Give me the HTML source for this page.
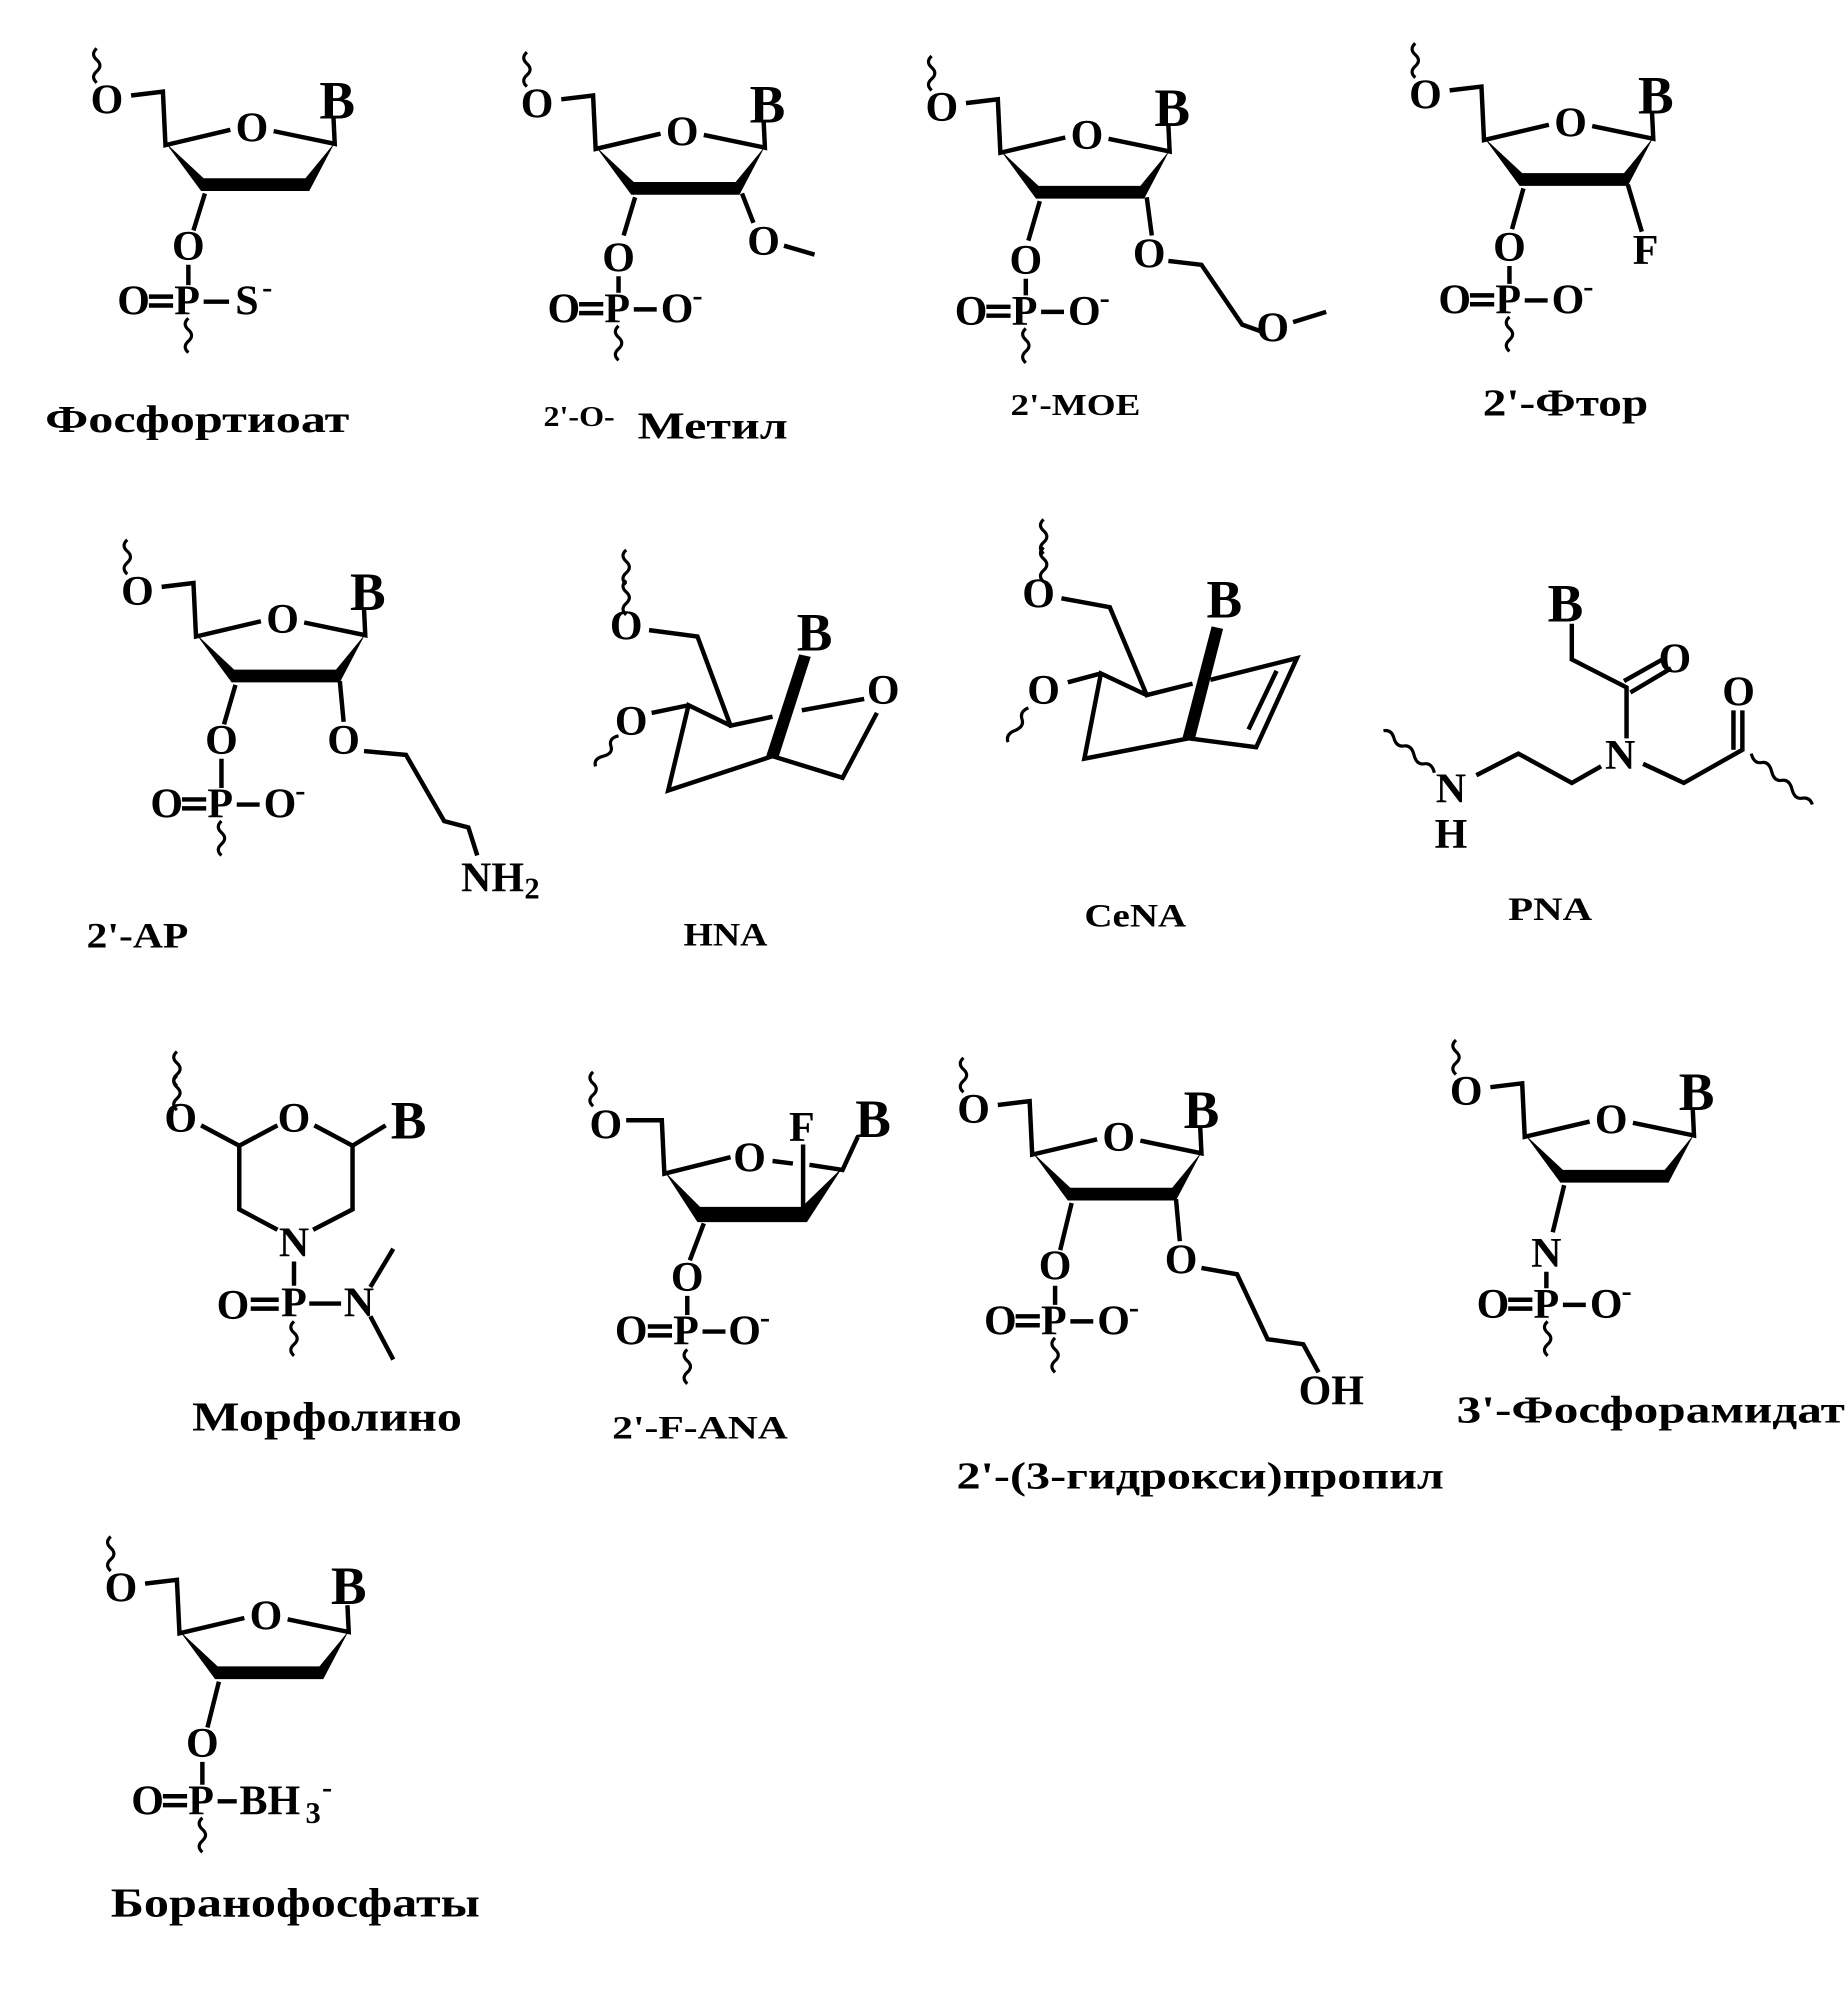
<!DOCTYPE html>
<html><head><meta charset="utf-8"><style>
html,body{margin:0;padding:0;background:#fff}
svg{display:block}
path{fill:none}
text{font-family:"Liberation Serif","Times New Roman",serif;fill:#000}
.a{font-size:33px;font-weight:bold;text-anchor:middle;dominant-baseline:central}
.b{font-size:42px;font-weight:bold;text-anchor:middle;dominant-baseline:central}
.s{font-size:24px;font-weight:bold;text-anchor:middle;dominant-baseline:central}
.l{font-weight:bold;text-anchor:middle;dominant-baseline:central}
</style></head><body>
<svg width="1848" height="1991" viewBox="0 0 1452 1564" preserveAspectRatio="none" xmlns="http://www.w3.org/2000/svg">
<defs>
<g id="fur">
<path d="M-27,-39 L-2,-42 L0,0 L51,-12 M85,-11 L133,-1 L132,-22" stroke="#000" stroke-width="3.5"/>
<polygon points="0,-2 30,26 110,26 133,-2 113,36 28,36" fill="#000"/>
</g>
<path id="wv" d="M0,0 q-5,4.5 0,9 q5,4.5 0,9 q-5,4.5 0,9" stroke="#000" stroke-width="2.5"/>
</defs>

<!-- 1 Phosphorothioate -->
<use href="#fur" x="130" y="114"/>
<use href="#wv" x="76" y="38"/>
<text class="a" x="84" y="79">O</text><text class="a" x="198" y="101">O</text><text class="b" x="265" y="79">B</text>
<path d="M161,152 L152,181 M148,208 L148,224 M117,233 L136,233 M117,240 L136,240 M160,237 L180,237" stroke="#000" stroke-width="3.5"/>
<text class="a" x="148" y="194">O</text><text class="a" x="147" y="237">P</text><text class="a" x="105" y="237">O</text><text class="a" x="194" y="237">S</text><text class="s" x="210" y="226">-</text>
<use href="#wv" x="148" y="250"/>
<text class="l" x="155" y="330" font-size="30" textLength="239" lengthAdjust="spacingAndGlyphs">Фосфортиоат</text>

<!-- 2 2'-O-Methyl -->
<use href="#fur" x="468" y="117"/>
<use href="#wv" x="414" y="41"/>
<text class="a" x="422" y="82">O</text><text class="a" x="536" y="104">O</text><text class="b" x="603" y="82">B</text>
<path d="M499,155 L490,185 M486,217 L486,230 M455,239 L474,239 M455,246 L474,246 M498,243 L516,243 M583,152 L592,175 M616,193 L640,200" stroke="#000" stroke-width="3.5"/>
<text class="a" x="486" y="203">O</text><text class="a" x="485" y="243">P</text><text class="a" x="443" y="243">O</text><text class="a" x="532" y="243">O</text><text class="s" x="548" y="232">-</text><text class="a" x="600" y="190">O</text>
<use href="#wv" x="486" y="256"/>
<text class="l" x="455" y="328" font-size="22" textLength="56" lengthAdjust="spacingAndGlyphs">2'-O-</text>
<text class="l" x="560" y="335" font-size="30" textLength="118" lengthAdjust="spacingAndGlyphs">Метил</text>

<!-- 3 2'-MOE -->
<use href="#fur" x="786" y="120"/>
<use href="#wv" x="732" y="44"/>
<text class="a" x="740" y="85">O</text><text class="a" x="854" y="107">O</text><text class="b" x="921" y="85">B</text>
<path d="M817,158 L808,189 M806,219 L806,232 M775,241 L794,241 M775,248 L794,248 M818,245 L836,245 M901,155 L905,185 M918,205 L944,208 L976,255 L990,260 M1016,253 L1042,245" stroke="#000" stroke-width="3.5"/>
<text class="a" x="806" y="205">O</text><text class="a" x="805" y="245">P</text><text class="a" x="763" y="245">O</text><text class="a" x="852" y="245">O</text><text class="s" x="868" y="234">-</text><text class="a" x="903" y="200">O</text><text class="a" x="1000" y="258">O</text>
<use href="#wv" x="806" y="258"/>
<text class="l" x="845" y="318" font-size="24" textLength="102" lengthAdjust="spacingAndGlyphs">2'-MOE</text>

<!-- 4 2'-Fluoro -->
<use href="#fur" x="1166" y="110"/>
<use href="#wv" x="1112" y="34"/>
<text class="a" x="1120" y="75">O</text><text class="a" x="1234" y="97">O</text><text class="b" x="1301" y="75">B</text>
<path d="M1197,148 L1188,180 M1186,209 L1186,223 M1155,232 L1174,232 M1155,239 L1174,239 M1198,236 L1216,236 M1279,145 L1290,182" stroke="#000" stroke-width="3.5"/>
<text class="a" x="1186" y="195">O</text><text class="a" x="1185" y="236">P</text><text class="a" x="1143" y="236">O</text><text class="a" x="1232" y="236">O</text><text class="s" x="1248" y="225">-</text><text class="a" x="1293" y="197" font-size="26">F</text>
<use href="#wv" x="1186" y="249"/>
<text class="l" x="1230" y="317" font-size="30" textLength="130" lengthAdjust="spacingAndGlyphs">2'-Фтор</text>

<!-- 5 2'-AP -->
<use href="#fur" x="154" y="500"/>
<use href="#wv" x="100" y="424"/>
<text class="a" x="108" y="465">O</text><text class="a" x="222" y="487">O</text><text class="b" x="289" y="465">B</text>
<path d="M185,538 L176,569 M174,596 L174,619 M143,628 L162,628 M143,635 L162,635 M186,632 L204,632 M267,535 L270,567 M286,590 L319,593 L349,645 L368,650 L375,672" stroke="#000" stroke-width="3.5"/>
<text class="a" x="174" y="582">O</text><text class="a" x="173" y="632">P</text><text class="a" x="131" y="632">O</text><text class="a" x="220" y="632">O</text><text class="s" x="236" y="621">-</text><text class="a" x="270" y="582">O</text>
<text class="a" x="387" y="690">NH</text><text class="s" x="418" y="698">2</text>
<use href="#wv" x="174" y="645"/>
<text class="l" x="108" y="735" font-size="28" textLength="80" lengthAdjust="spacingAndGlyphs">2'-AP</text>

<!-- HNA -->
<use href="#wv" x="492" y="432"/>
<use href="#wv" x="492" y="456"/>
<text class="a" x="492" y="492">O</text>
<path d="M510,495 L548,500 L574,570 L607,563 M574,570 L541,554 L525,621 L607,594 L662,611 L689,560 M512,560 L541,554 M630,558 L679,549" stroke="#000" stroke-width="3.5"/>
<polygon points="602,594 612,594 637,516 628,514" fill="#000"/>
<text class="b" x="640" y="497">B</text><text class="a" x="694" y="543">O</text><text class="a" x="496" y="567">O</text>
<path d="M486,578 q-8,2 -6,8 q2,6 -6,8 q-8,2 -6,8" stroke="#000" stroke-width="2.5"/>
<text class="l" x="570" y="735" font-size="26" textLength="66" lengthAdjust="spacingAndGlyphs">HNA</text>

<!-- CeNA -->
<use href="#wv" x="820" y="408"/>
<use href="#wv" x="820" y="430"/>
<text class="a" x="816" y="467">O</text>
<path d="M834,470 L872,477 L901,546 L937,537 M901,546 L865,529 L852,596 L934,580 L987,587 L1019,517 L951,534 M1003,527 L981,573 M839,536 L865,529" stroke="#000" stroke-width="3.5"/>
<polygon points="929,580 939,580 961,494 952,492" fill="#000"/>
<text class="b" x="962" y="471">B</text><text class="a" x="820" y="543">O</text>
<path d="M808,556 q-7,3 -5,9 q2,6 -6,9 q-7,3 -5,9" stroke="#000" stroke-width="2.5"/>
<text class="l" x="892" y="720" font-size="26" textLength="80" lengthAdjust="spacingAndGlyphs">CeNA</text>

<!-- PNA -->
<text class="b" x="1230" y="474">B</text>
<path d="M1235,490 L1235,518 L1278,540 L1278,580 M1291,600 L1323,615 L1369,589 L1369,558 M1362,589 L1362,558 M1276,535 L1308,517 M1281,544 L1313,525 M1258,602 L1235,615 L1193,592 L1160,609" stroke="#000" stroke-width="3.5"/>
<text class="a" x="1316" y="518">O</text><text class="a" x="1366" y="544">O</text><text class="a" x="1273" y="594">N</text><text class="a" x="1140" y="620">N</text><text class="a" x="1140" y="656">H</text>
<path d="M1376,592 q2,8 8,7 q6,-1 8,7 q2,8 8,7 q6,-1 8,7 q2,8 8,7 q6,-1 8,5" stroke="#000" stroke-width="2.5"/>
<path d="M1127,607 q-2,-8 -8,-7 q-6,1 -8,-7 q-2,-8 -8,-7 q-6,1 -8,-7 q-2,-6 -8,-5" stroke="#000" stroke-width="2.5"/>
<text class="l" x="1218" y="715" font-size="26" textLength="66" lengthAdjust="spacingAndGlyphs">PNA</text>

<!-- Morpholino -->
<use href="#wv" x="139" y="826"/>
<use href="#wv" x="139" y="845"/>
<text class="a" x="142" y="879">O</text><text class="a" x="231" y="879">O</text><text class="b" x="321" y="880">B</text>
<path d="M158,884 L188,900 L218,884 M247,884 L277,900 L303,884 M277,900 L277,950 L246,966 M188,900 L188,950 L218,966 M231,991 L231,1010 M197,1021 L219,1021 M197,1028 L219,1028 M243,1024 L268,1024 M291,1011 L309,981 M291,1034 L309,1068" stroke="#000" stroke-width="3.5"/>
<text class="a" x="231" y="977">N</text><text class="a" x="231" y="1024">P</text><text class="a" x="183" y="1026">O</text><text class="a" x="282" y="1024">N</text>
<use href="#wv" x="231" y="1038"/>
<text class="l" x="257" y="1113" font-size="32" textLength="212" lengthAdjust="spacingAndGlyphs">Морфолино</text>

<!-- 2'-F-ANA -->
<use href="#wv" x="466" y="842"/>
<text class="a" x="476" y="884">O</text><text class="a" x="589" y="910">O</text><text class="b" x="686" y="879">B</text><text class="a" x="630" y="886" font-size="28">F</text>
<path d="M492,880 L520,880 L522,922 L574,909 M607,912 L623,914 M631,899 L631,950 M636,915 L662,919 L674,893 M553,961 L542,990 M540,1018 L540,1033 M509,1042 L528,1042 M509,1049 L528,1049 M552,1046 L570,1046" stroke="#000" stroke-width="3.5"/>
<polygon points="522,920 550,948 630,948 662,917 634,960 548,960" fill="#000"/>
<text class="a" x="540" y="1004">O</text><text class="a" x="539" y="1046">P</text><text class="a" x="496" y="1046">O</text><text class="a" x="585" y="1046">O</text><text class="s" x="601" y="1035">-</text>
<use href="#wv" x="540" y="1060"/>
<text class="l" x="550" y="1122" font-size="26" textLength="138" lengthAdjust="spacingAndGlyphs">2'-F-ANA</text>

<!-- Hydroxypropyl -->
<use href="#fur" x="811" y="907"/>
<use href="#wv" x="757" y="831"/>
<text class="a" x="765" y="872">O</text><text class="a" x="879" y="894">O</text><text class="b" x="944" y="872">B</text>
<path d="M842,945 L833,982 M829,1010 L829,1025 M798,1034 L817,1034 M798,1041 L817,1041 M841,1038 L859,1038 M924,942 L927,975 M944,996 L972,1001 L996,1052 L1024,1056 L1036,1078" stroke="#000" stroke-width="3.5"/>
<text class="a" x="829" y="995">O</text><text class="a" x="828" y="1038">P</text><text class="a" x="786" y="1038">O</text><text class="a" x="875" y="1038">O</text><text class="s" x="891" y="1027">-</text><text class="a" x="928" y="990">O</text><text class="a" x="1046" y="1093">OH</text>
<use href="#wv" x="829" y="1051"/>
<text class="l" x="943" y="1160" font-size="30" textLength="383" lengthAdjust="spacingAndGlyphs">2'-(3-гидрокси)пропил</text>

<!-- 3'-Phosphoramidate -->
<use href="#fur" x="1198" y="893"/>
<use href="#wv" x="1144" y="817"/>
<text class="a" x="1152" y="858">O</text><text class="a" x="1266" y="880">O</text><text class="b" x="1333" y="858">B</text>
<path d="M1229,931 L1220,968 M1215,999 L1215,1012 M1185,1021 L1204,1021 M1185,1028 L1204,1028 M1228,1025 L1246,1025" stroke="#000" stroke-width="3.5"/>
<text class="a" x="1215" y="985">N</text><text class="a" x="1215" y="1025">P</text><text class="a" x="1173" y="1025">O</text><text class="a" x="1262" y="1025">O</text><text class="s" x="1278" y="1014">-</text>
<use href="#wv" x="1216" y="1038"/>
<text class="l" x="1297" y="1108" font-size="30" textLength="305" lengthAdjust="spacingAndGlyphs">3'-Фосфорамидат</text>

<!-- Boranophosphate -->
<use href="#fur" x="141" y="1283"/>
<use href="#wv" x="87" y="1207"/>
<text class="a" x="95" y="1248">O</text><text class="a" x="209" y="1270">O</text><text class="b" x="274" y="1246">B</text>
<path d="M172,1321 L163,1357 M159,1384 L159,1402 M128,1411 L147,1411 M128,1418 L147,1418 M171,1415 L186,1415" stroke="#000" stroke-width="3.5"/>
<text class="a" x="159" y="1370">O</text><text class="a" x="158" y="1415">P</text><text class="a" x="116" y="1415">O</text><text class="a" x="212" y="1415">BH</text><text class="s" x="246" y="1424">3</text><text class="s" x="257" y="1404">-</text>
<use href="#wv" x="159" y="1428"/>
<text class="l" x="232" y="1495" font-size="32" textLength="290" lengthAdjust="spacingAndGlyphs">Боранофосфаты</text>
</svg>
</body></html>
